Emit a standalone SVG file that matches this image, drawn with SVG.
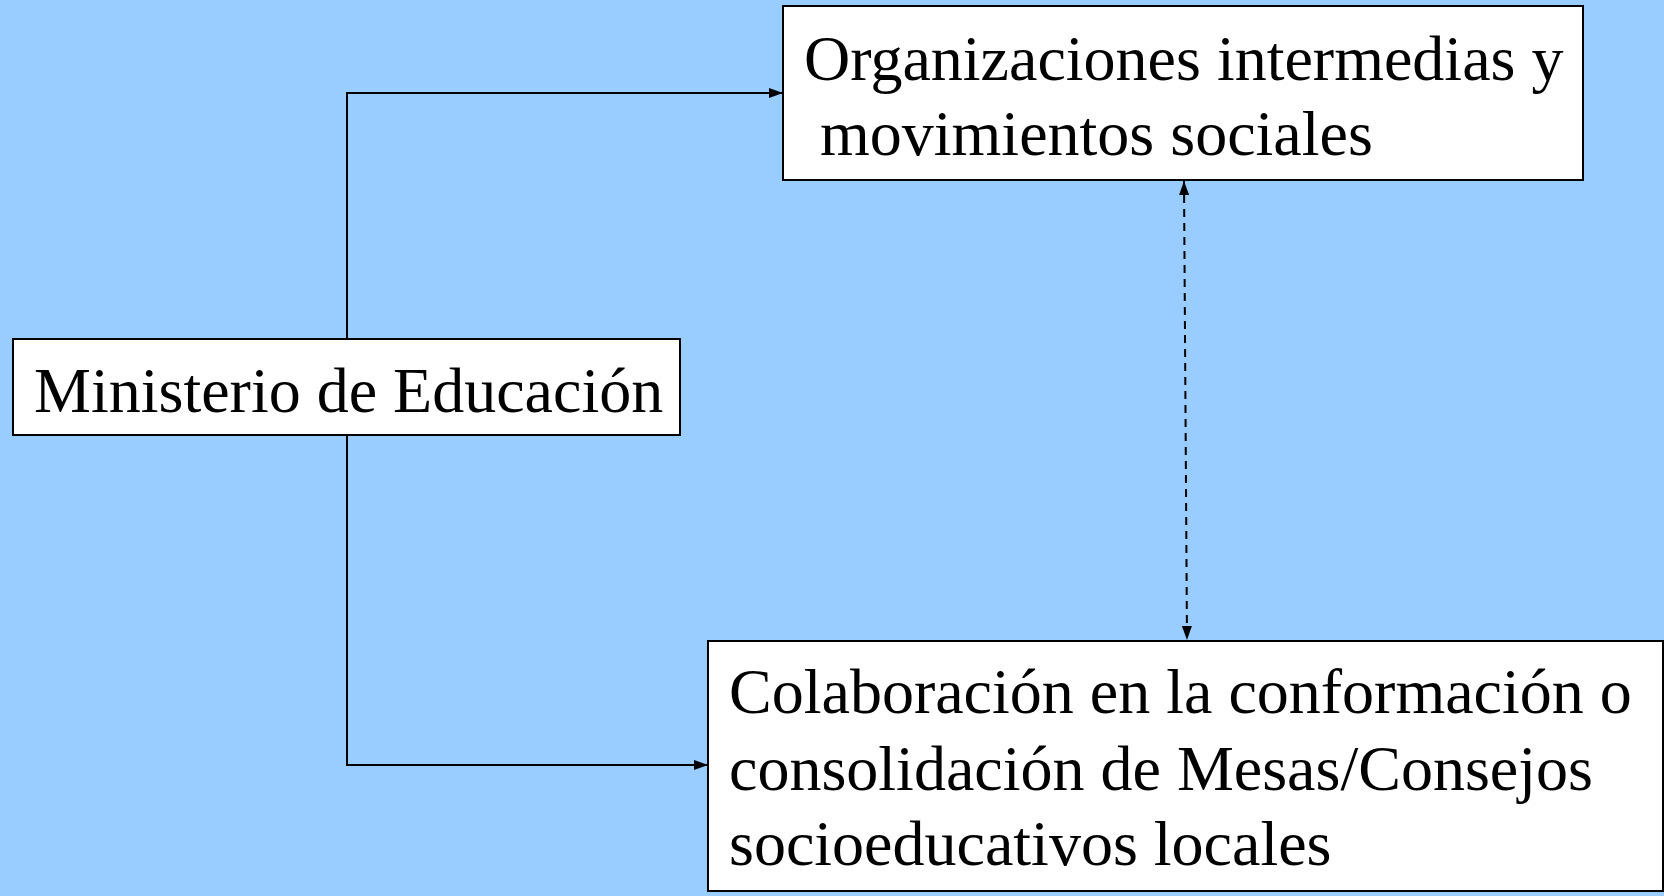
<svg xmlns="http://www.w3.org/2000/svg" width="1664" height="896" viewBox="0 0 1664 896">
<defs>
<style>
.box{fill:#ffffff;stroke:#000000;stroke-width:2}
.t{font-family:"Liberation Serif","Times New Roman",serif;font-size:64px;fill:#000000}
.c{fill:none;stroke:#000000;stroke-width:2}
.d{fill:none;stroke:#000000;stroke-width:2;stroke-dasharray:8,6}
</style>
<marker id="ah" viewBox="0 0 14 10" refX="14" refY="5" markerWidth="14" markerHeight="10" markerUnits="userSpaceOnUse" orient="auto">
<path d="M0,0 L14,5 L0,10 Z" fill="#000000"/>
</marker>
<marker id="ahs" viewBox="0 0 14 10" refX="0" refY="5" markerWidth="14" markerHeight="10" markerUnits="userSpaceOnUse" orient="auto">
<path d="M14,0 L0,5 L14,10 Z" fill="#000000"/>
</marker>
</defs>
<rect x="0" y="0" width="1664" height="896" fill="#99CCFF"/>
<g id="connectors">
<path class="c" d="M347,338 L347,93 L783,93" marker-end="url(#ah)"/>
<path class="c" d="M347,435 L347,765 L708,765" marker-end="url(#ah)"/>
<path class="d" d="M1184,181 L1187,640" marker-start="url(#ahs)" marker-end="url(#ah)"/>
</g>
<g id="ministerio">
<rect class="box" x="13" y="339" width="667" height="96"/>
<text class="t" x="34" y="412">Ministerio de Educación</text>
</g>
<g id="organizaciones">
<rect class="box" x="783" y="6" width="800" height="174"/>
<text class="t" x="804" y="80">Organizaciones intermedias y</text>
<text class="t" x="820" y="155">movimientos sociales</text>
</g>
<g id="colaboracion">
<rect class="box" x="708" y="641" width="955" height="250"/>
<text class="t" x="729" y="713">Colaboración en la conformación o</text>
<text class="t" x="729" y="790">consolidación de Mesas/Consejos</text>
<text class="t" x="729" y="865">socioeducativos locales</text>
</g>
</svg>
